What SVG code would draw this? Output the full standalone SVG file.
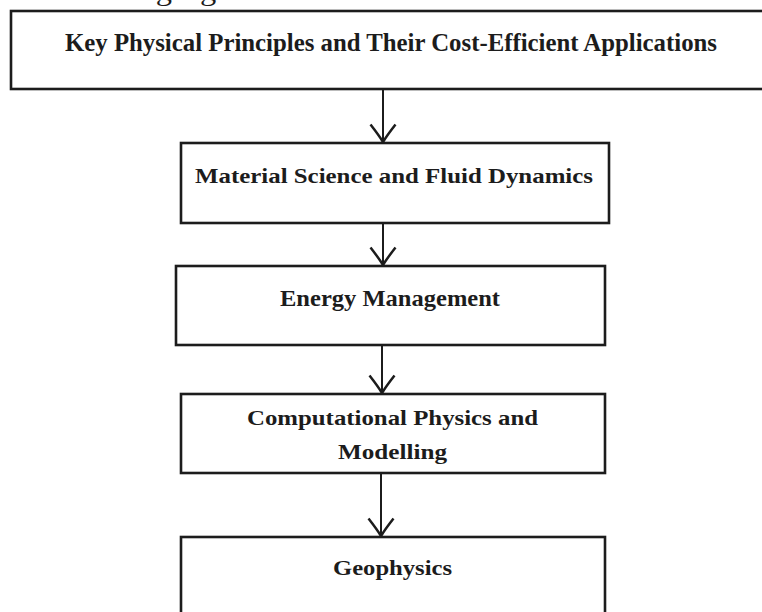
<svg xmlns="http://www.w3.org/2000/svg" width="762" height="612" viewBox="0 0 762 612">
  <style>
    .box { fill: #ffffff; stroke: #1c1c1c; stroke-width: 2.6; }
    .label { font-family: "Liberation Serif", "Times New Roman", serif; font-weight: bold; fill: #1c1c1c; text-anchor: start; }
    .conn { fill: none; stroke: #1c1c1c; stroke-width: 2; }
    .lead { font-family: "Liberation Serif", "Times New Roman", serif; fill: #1c1c1c; }
  </style>
  <defs>
    <marker id="chevron" markerUnits="userSpaceOnUse" markerWidth="30" markerHeight="30" viewBox="-16 -12 20 24" refX="0" refY="0" orient="auto" overflow="visible">
      <path d="M -14 -10 Q -5 -3 0 0 Q -5 3 -14 10" fill="none" stroke="#1c1c1c" stroke-width="2"/>
    </marker>
  </defs>

  <rect width="762" height="612" fill="#ffffff"/>

  <!-- running text above the chart, cut at the top edge -->
  <text class="lead" x="-2" y="0" font-size="28" textLength="292" lengthAdjust="spacingAndGlyphs">the following figure 1.</text>

  <g id="connectors">
    <path class="conn" d="M 383 89 L 383 142" marker-end="url(#chevron)"/>
    <path class="conn" d="M 383 223 L 383 265" marker-end="url(#chevron)"/>
    <path class="conn" d="M 382 345 L 382 393" marker-end="url(#chevron)"/>
    <path class="conn" d="M 381 473 L 381 536" marker-end="url(#chevron)"/>
  </g>

  <g id="node-principles">
    <rect class="box" x="11" y="11" width="760" height="78"/>
    <text class="label" x="65" y="51" font-size="25" textLength="652" lengthAdjust="spacingAndGlyphs">Key Physical Principles and Their Cost-Efficient Applications</text>
  </g>

  <g id="node-material">
    <rect class="box" x="181" y="143" width="428" height="80"/>
    <text class="label" x="195" y="183" font-size="22" textLength="398" lengthAdjust="spacingAndGlyphs">Material Science and Fluid Dynamics</text>
  </g>

  <g id="node-energy">
    <rect class="box" x="176" y="266" width="429" height="79"/>
    <text class="label" x="280" y="306" font-size="23" textLength="220" lengthAdjust="spacingAndGlyphs">Energy Management</text>
  </g>

  <g id="node-computational">
    <rect class="box" x="181" y="394" width="424" height="79"/>
    <text class="label" x="247" y="425" font-size="22" textLength="291" lengthAdjust="spacingAndGlyphs">Computational Physics and</text>
    <text class="label" x="338" y="459" font-size="22" textLength="109" lengthAdjust="spacingAndGlyphs">Modelling</text>
  </g>

  <g id="node-geophysics">
    <rect class="box" x="181" y="537" width="424" height="90"/>
    <text class="label" x="333" y="575" font-size="22" textLength="119" lengthAdjust="spacingAndGlyphs">Geophysics</text>
  </g>
</svg>
